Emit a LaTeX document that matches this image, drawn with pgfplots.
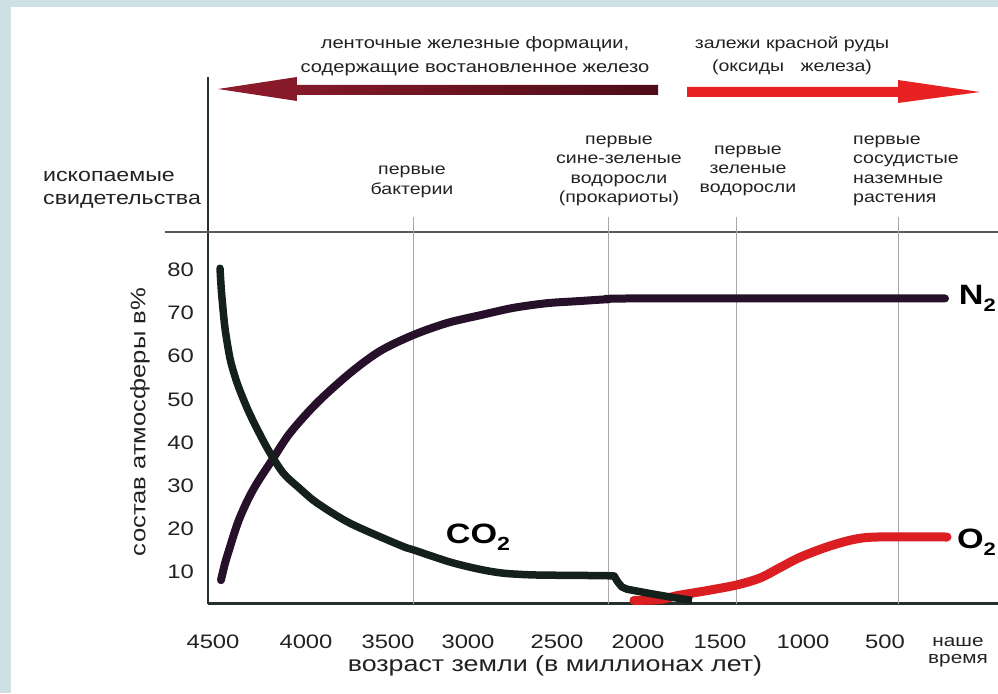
\documentclass[border=0pt]{standalone}
\usepackage{fontspec}
\setmainfont{Liberation Sans}[FakeStretch=1.22]
\usepackage{pgfplots}
\pgfplotsset{compat=1.18}
\newcommand\py[1]{\fpeval{(615.1-(#1))/4.314}}
\definecolor{bgc}{HTML}{CFE0E5}
\definecolor{axisc}{HTML}{26302A}
\definecolor{gridc}{HTML}{A8A8A8}
\definecolor{fossc}{HTML}{5A5A5A}
\definecolor{n2c}{HTML}{26102A}
\definecolor{co2c}{HTML}{14201A}
\definecolor{o2c}{HTML}{DA1E22}
\definecolor{arrL}{HTML}{901C2C}
\definecolor{arrLd}{HTML}{4E0C18}
\definecolor{arrR}{HTML}{E82222}
\definecolor{txtc}{HTML}{222222}
\begin{document}
\begin{tikzpicture}
% background (picture px -> X = px-208, Y = 603.88-py)
\fill[bgc] (-208pt,-89.12pt) rectangle (790pt,603.88pt);
\fill[white] (-197pt,-89.12pt) rectangle (790pt,596.88pt);
\begin{axis}[
  at={(0pt,0pt)}, anchor=south west,
  x=1pt, y=4.314pt,
  xmin=208, xmax=998, ymin=2.6, ymax=124.7,
  axis x line=bottom, axis y line=left,
  axis line style={-},
  x axis line style={line width=3pt, draw=axisc},
  y axis line style={line width=2.4pt, draw=axisc},
  xtick={213,306,388,468,557,638,720,803,885,958},
  xticklabels={4500,4000,3500,3000,2500,2000,1500,1000,500,{\fontsize{17}{17}\selectfont\begin{tabular}{@{}c@{}}наше\\время\end{tabular}}},
  ytick={10,20,30,40,50,60,70,80},
  major tick length=0pt,
  /pgf/number format/assume math mode=true,
  ticklabel style={font=\fontsize{19.5}{22}\selectfont, text=txtc},
  xticklabel style={anchor=north, yshift=-30.5pt, inner sep=0pt},
  yticklabel style={anchor=east, xshift=-14pt, inner sep=0pt},
  clip=false,
]
% decorations: fossil line and event lines
\draw[fossc, line width=1.5pt] (axis cs:165,\py{232}) -- (axis cs:998,\py{232});
\foreach \gx in {413,608,736,898}{
  \edef\tmp{\noexpand\draw[gridc, line width=1pt] (axis cs:\gx,\py{217}) -- (axis cs:\gx,2.6);}\tmp
}
% O2
\addplot[o2c, line width=9pt, smooth, line cap=round] coordinates {
(634,3.4) (660,3.6) (677,4.5) (710,5.8) (737,7.0) (760,8.6) (780,11.0) (800,13.4) (827,15.8) (853,17.5) (877,18.1) (947,18.1)};
% N2
\addplot[n2c, line width=8pt, smooth, line cap=round] coordinates {
(221,8.1) (225,12) (230,15.8) (235,19.5) (240,22.7) (248,26.8) (257,30.6) (272,35.9) (290,42.2) (317,49.2) (350,56.1) (380,61.2) (413,64.9) (447,67.7) (480,69.5) (513,71.2) (547,72.3) (580,72.8) (607,73.2) (640,73.4) (945,73.4)};
% CO2
\addplot[co2c, line width=7.5pt, smooth, line cap=round] coordinates {
(220,80.4) (221,76.5) (222,73.5) (225,66.5) (230,59.5) (235,55.3) (240,52) (250,46.5) (267,38.8) (283,33) (300,29.3) (317,26) (350,21.3) (400,16.2) (415,15) (450,12.3) (480,10.6) (504,9.7) (535,9.3) (580,9.2) (614,9.1)};
\addplot[co2c, line width=7.5pt, line join=round] coordinates {
(614,9.1) (618,7.6) (622,6.5) (627,6.0) (650,5.0) (670,4.2) (692,3.4)};
% arrows
\shade[left color=arrL, right color=arrLd]
  (axis cs:218,\py{89}) -- (axis cs:297,\py{77}) -- (axis cs:297,\py{85}) -- (axis cs:658,\py{85})
  -- (axis cs:658,\py{95}) -- (axis cs:297,\py{95}) -- (axis cs:297,\py{101}) -- cycle;
\fill[arrR]
  (axis cs:687,\py{87}) -- (axis cs:898,\py{87}) -- (axis cs:898,\py{80}) -- (axis cs:980,\py{92})
  -- (axis cs:898,\py{103}) -- (axis cs:898,\py{97}) -- (axis cs:687,\py{97}) -- cycle;
% texts
\node[font=\fontsize{16.5}{24}\selectfont, align=center, text=txtc] at (axis cs:475,\py{56}) {ленточные железные формации,\\содержащие востановленное железо};
\node[font=\fontsize{16}{23}\selectfont, align=center, text=txtc] at (axis cs:792,\py{56}) {залежи красной руды\\(оксиды\ \ \ железа)};
\node[font=\fontsize{19}{23}\selectfont, align=left, anchor=west, text=txtc, inner sep=0pt] at (axis cs:43,\py{190}) {ископаемые\\свидетельства};
\node[font=\fontsize{16}{19.3}\selectfont, align=center, text=txtc] at (axis cs:412,\py{182}) {первые\\бактерии};
\node[font=\fontsize{16}{19.3}\selectfont, align=center, text=txtc] at (axis cs:619,\py{171}) {первые\\сине-зеленые\\водоросли\\(прокариоты)};
\node[font=\fontsize{16}{19.3}\selectfont, align=center, text=txtc] at (axis cs:748,\py{171}) {первые\\зеленые\\водоросли};
\node[font=\fontsize{16}{19.3}\selectfont, align=left, anchor=west, inner sep=0pt, text=txtc] at (axis cs:853,\py{171}) {первые\\сосудистые\\наземные\\растения};
\node[font=\fontsize{21}{24}\selectfont, rotate=90, text=txtc] at (axis cs:140,\py{422}) {состав атмосферы в\%};
\node[font=\fontsize{22}{26}\selectfont, text=txtc] at (axis cs:555,\py{666}) {возраст земли (в миллионах лет)};
\node[font=\bfseries\fontsize{28}{30}\selectfont, text=black] at (axis cs:478,\py{537}) {CO\raisebox{-0.25em}{\fontsize{19}{19}\selectfont 2}};
\node[font=\bfseries\fontsize{28}{30}\selectfont, text=black, anchor=east, inner sep=0pt] at (axis cs:996,\py{298}) {N\raisebox{-0.25em}{\fontsize{18}{18}\selectfont 2}};
\node[font=\bfseries\fontsize{28}{30}\selectfont, text=black, anchor=east, inner sep=0pt] at (axis cs:996,\py{542}) {O\raisebox{-0.25em}{\fontsize{18}{18}\selectfont 2}};
\end{axis}
\pgfresetboundingbox
\path (-208pt,-89.12pt) rectangle (790pt,603.88pt);
\end{tikzpicture}
\end{document}
